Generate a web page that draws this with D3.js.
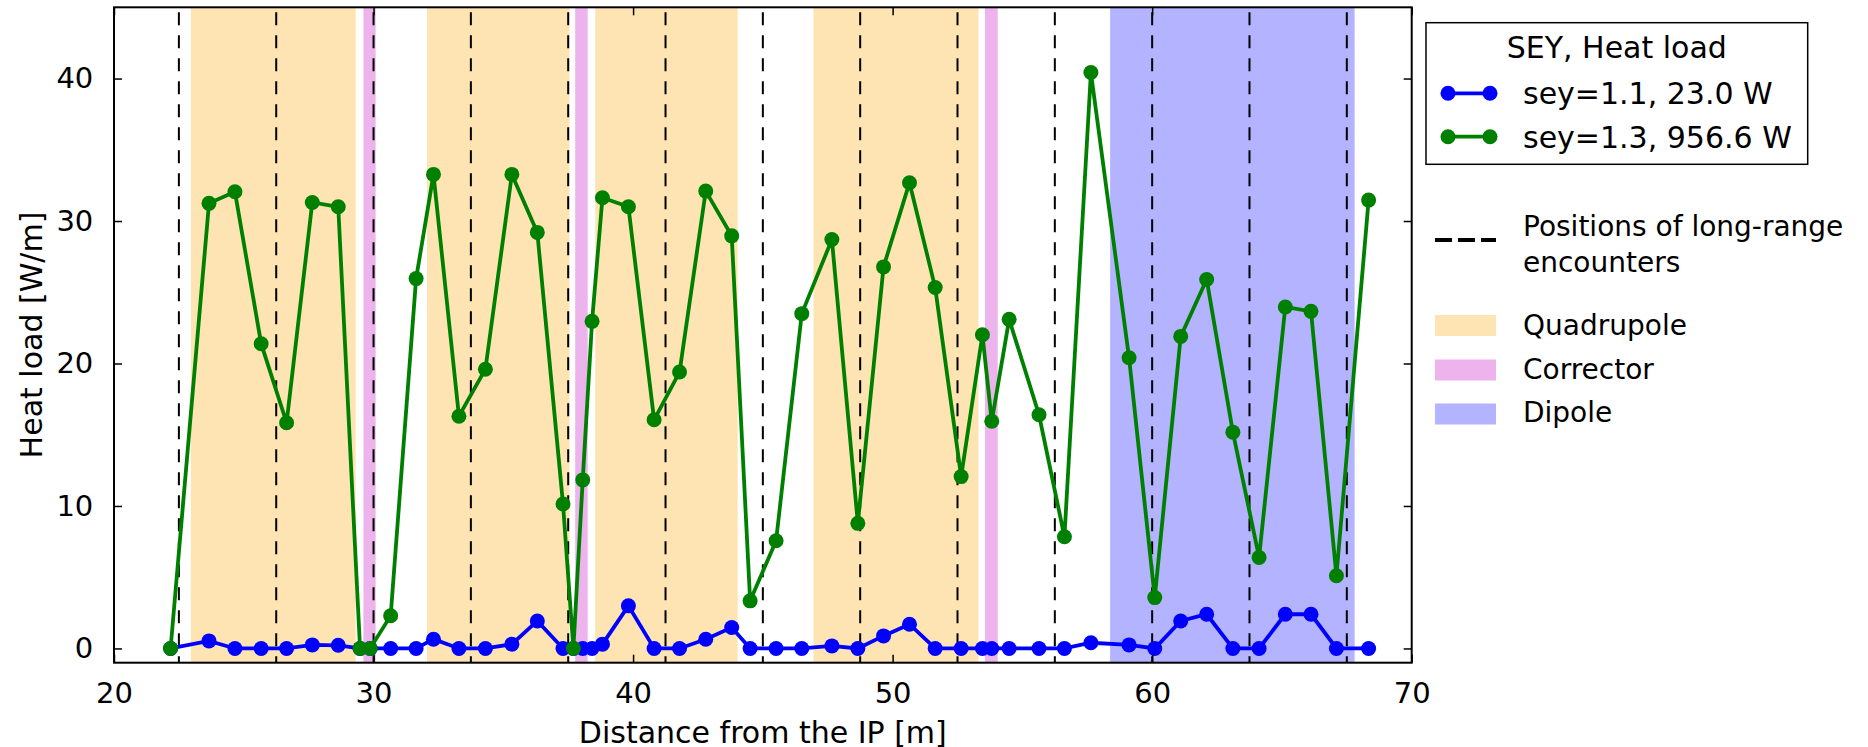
<!DOCTYPE html>
<html>
<head>
<meta charset="utf-8">
<script src="https://cdn.jsdelivr.net/npm/d3@7"></script>
<style>
  html, body { margin: 0; padding: 0; background: #fff; }
  svg { display: block; }
  text { font-family: "DejaVu Sans", sans-serif; fill: #000; }
</style>
</head>
<body>
<div id="chart"></div>
<script>
// ---- data ----
const positions = [22.18, 23.66, 24.66, 25.67, 26.65, 27.64, 28.64, 29.48, 29.87, 30.66,
  31.64, 32.31, 33.29, 34.31, 35.33, 36.31, 37.3, 37.7, 38.06, 38.42,
  38.82, 39.82, 40.81, 41.79, 42.8, 43.8, 44.51, 45.51, 46.5, 47.66,
  48.66, 49.65, 50.65, 51.64, 52.64, 53.46, 53.82, 54.49, 55.64, 56.62,
  57.64, 59.11, 60.1, 61.1, 62.1, 63.11, 64.12, 65.13, 66.12, 67.1, 68.34];
const sey11 = [0, 0.53, 0, 0, 0, 0.25, 0.22, 0, 0, 0,
  0, 0.65, 0, 0, 0.3, 1.93, 0, 0, 0, 0,
  0.3, 2.99, 0, 0, 0.65, 1.47, 0, 0, 0, 0.18,
  0, 0.88, 1.7, 0, 0, 0, 0, 0, 0, 0,
  0.4, 0.25, 0, 1.93, 2.4, 0, 0, 2.4, 2.4, 0, 0];
const sey13 = [0, 31.24, 32.05, 21.39, 15.84, 31.3, 31.0, 0, 0, 2.3,
  25.96, 33.27, 16.3, 19.6, 33.27, 29.2, 10.14, 0, 11.83, 22.96,
  31.63, 31.0, 16.05, 19.4, 32.1, 28.96, 3.34, 7.56, 23.5, 28.7,
  8.78, 26.78, 32.69, 25.33, 12.06, 22.02, 15.95, 23.1, 16.4, 7.84,
  40.42, 20.4, 3.57, 21.9, 25.9, 15.18, 6.39, 23.97, 23.66, 5.1, 31.47];
const encounters = [22.5, 26.25, 30, 33.75, 37.5, 41.25, 45, 48.75, 52.5, 56.25, 60, 63.75, 67.5];
const quadStart = [22.96, 32.06, 38.54, 46.95];
const quadEnd   = [29.31, 37.55, 44.03, 53.31];
const corrStart = [29.61, 37.77, 53.56];
const corrEnd   = [30.08, 38.25, 54.05];
const dipStart  = [58.38];
const dipEnd    = [67.8];
const xTicks = [20, 30, 40, 50, 60, 70];
const yTicks = [0, 10, 20, 30, 40];
const seriesLabels = ["sey=1.1, 23.0 W", "sey=1.3, 956.6 W"];
const legendTitle = "SEY, Heat load";
const regionLabels = ["Quadrupole", "Corrector", "Dipole"];

// ---- layout ----
const W = 1868, H = 747;
const L = 114, R = 1411.7, T = 7.3, B = 662.7;
const cQuad = "#ffe4b3", cCorr = "#ecb3ec", cDip = "#b3b3ff";
const cBlue = "#0000ff", cGreen = "#008000";
const LW = 3.8, MR = 7.5;

const svg = d3.select("#chart").append("svg").attr("width", W).attr("height", H);
const x = d3.scaleLinear().domain([20, 70]).range([L, R]);
const y = d3.scaleLinear().domain([-1, 45]).range([B, T]);

const plot = svg.append("g");
plot.append("defs").append("clipPath").attr("id", "clip")
  .append("rect").attr("x", L).attr("y", T).attr("width", R - L).attr("height", B - T);
const g = plot.append("g").attr("clip-path", "url(#clip)");

function spans(starts, ends, color) {
  g.selectAll(null).data(starts.map((s, i) => [s, ends[i]])).enter().append("rect")
    .attr("x", d => x(d[0])).attr("width", d => x(d[1]) - x(d[0]))
    .attr("y", T).attr("height", B - T).attr("fill", color);
}
spans(quadStart, quadEnd, cQuad);
spans(corrStart, corrEnd, cCorr);
spans(dipStart, dipEnd, cDip);

g.selectAll(null).data(encounters).enter().append("line")
  .attr("x1", d => x(d)).attr("x2", d => x(d))
  .attr("y1", T).attr("y2", B)
  .attr("stroke", "#000").attr("stroke-width", 2).attr("stroke-dasharray", "13,10")
  .attr("stroke-dashoffset", -5);

function series(vals, color) {
  const data = positions.map((p, i) => [p, vals[i]]);
  g.append("path").datum(data)
    .attr("d", d3.line().x(d => x(d[0])).y(d => y(d[1])))
    .attr("fill", "none").attr("stroke", color).attr("stroke-width", LW)
    .attr("stroke-linejoin", "miter");
  g.selectAll(null).data(data).enter().append("circle")
    .attr("cx", d => x(d[0])).attr("cy", d => y(d[1])).attr("r", MR)
    .attr("fill", color);
}
series(sey11, cBlue);
series(sey13, cGreen);

// axes (inward ticks on all sides)
const tickLen = 8;
const axB = d3.axisBottom(x).tickValues(xTicks).tickSizeInner(-tickLen).tickSizeOuter(0).tickPadding(20);
const axT = d3.axisTop(x).tickValues(xTicks).tickSizeInner(-tickLen).tickSizeOuter(0).tickFormat("");
const axL = d3.axisLeft(y).tickValues(yTicks).tickSizeInner(-tickLen).tickSizeOuter(0).tickPadding(20.7);
const axR = d3.axisRight(y).tickValues(yTicks).tickSizeInner(-tickLen).tickSizeOuter(0).tickFormat("");

function styleAxis(sel) {
  sel.select(".domain").remove();
  sel.selectAll(".tick line").attr("stroke", "#000").attr("stroke-width", 1.5);
  sel.selectAll(".tick text").attr("font-family", "DejaVu Sans").attr("font-size", 29).attr("fill", "#000");
}
svg.append("g").attr("transform", `translate(0,${B})`).call(axB).call(styleAxis);
svg.append("g").attr("transform", `translate(0,${T})`).call(axT).call(styleAxis);
svg.append("g").attr("transform", `translate(${L},0)`).call(axL).call(styleAxis);
svg.append("g").attr("transform", `translate(${R},0)`).call(axR).call(styleAxis);

svg.append("rect").attr("x", L).attr("y", T).attr("width", R - L).attr("height", B - T)
  .attr("fill", "none").attr("stroke", "#000").attr("stroke-width", 2);

// axis labels
svg.append("text").attr("x", (L + R) / 2).attr("y", 742.5).attr("text-anchor", "middle")
  .attr("font-size", 30).text("Distance from the IP [m]");
svg.append("text").attr("transform", `translate(41.5,${(T + B) / 2}) rotate(-90)`)
  .attr("text-anchor", "middle").attr("font-size", 30).text("Heat load [W/m]");

// legend 1
const lg = svg.append("g");
lg.append("rect").attr("x", 1426).attr("y", 22.7).attr("width", 1807.7 - 1426).attr("height", 164.3 - 22.7)
  .attr("fill", "#fff").attr("stroke", "#000").attr("stroke-width", 1.5);
lg.append("text").attr("x", 1616.8).attr("y", 58.3).attr("text-anchor", "middle")
  .attr("font-size", 30).text(legendTitle);
const rowsY = [93.3, 136.7];
[cBlue, cGreen].forEach((c, i) => {
  const yy = rowsY[i];
  lg.append("line").attr("x1", 1448).attr("x2", 1490).attr("y1", yy).attr("y2", yy)
    .attr("stroke", c).attr("stroke-width", LW);
  lg.append("circle").attr("cx", 1448).attr("cy", yy).attr("r", MR).attr("fill", c);
  lg.append("circle").attr("cx", 1490).attr("cy", yy).attr("r", MR).attr("fill", c);
  lg.append("text").attr("x", 1523).attr("y", yy).attr("dy", "0.36em")
    .attr("font-size", 30).text(seriesLabels[i]);
});

// legend 2
const l2 = svg.append("g");
l2.append("line").attr("x1", 1435).attr("x2", 1496).attr("y1", 240).attr("y2", 240)
  .attr("stroke", "#000").attr("stroke-width", 4).attr("stroke-dasharray", "17,6");
l2.append("text").attr("x", 1523).attr("y", 236).attr("font-size", 28).text("Positions of long-range");
l2.append("text").attr("x", 1523).attr("y", 271.5).attr("font-size", 28).text("encounters");
const patchY = [315, 359.5, 403.5];
const baseY = [334.5, 379, 422];
[cQuad, cCorr, cDip].forEach((c, i) => {
  l2.append("rect").attr("x", 1435).attr("y", patchY[i]).attr("width", 61).attr("height", 21).attr("fill", c);
  l2.append("text").attr("x", 1523).attr("y", baseY[i]).attr("font-size", 28).text(regionLabels[i]);
});
</script>
</body>
</html>
